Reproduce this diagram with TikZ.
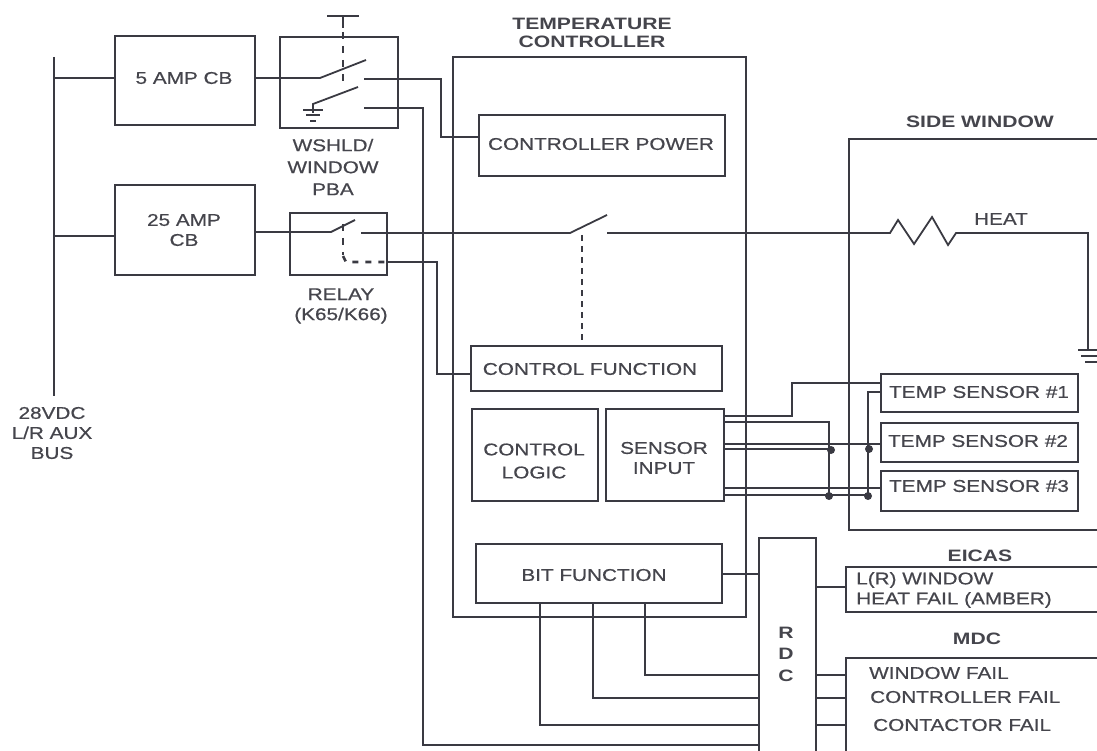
\documentclass[tikz,border=0pt]{standalone}
\usepackage{fontspec}
\setmainfont{Liberation Sans}
\newfontfamily\wideface[FakeStretch=1.22,FakeBold=0.6]{Liberation Sans}
\newfontfamily\widebold[FakeStretch=1.28]{Liberation Sans Bold}
\definecolor{ink}{HTML}{3A3A42}
\definecolor{txt}{HTML}{45454C}
\tikzset{
  wire/.style={draw=ink,line width=1.8pt,line join=miter},
  blk/.style={draw=ink,line width=2pt,fill=none,rectangle,inner sep=0pt,outer sep=0pt},
  dash1/.style={draw=ink,line width=2.6pt,dash pattern=on 7pt off 7pt},
  lab/.style={text=txt,font=\wideface\fontsize{17}{20}\selectfont,align=center,inner sep=0pt},
  labb/.style={lab,font=\widebold\fontsize{16.5}{18}\selectfont},
  dot1/.style={circle,fill=ink,inner sep=0pt,minimum size=8pt}
}
\newcommand{\bx}[5]{\node[blk,minimum width=#4pt,minimum height=#5pt,anchor=north west] (#1) at (#2,#3) {};}
\begin{document}
\begin{tikzpicture}[x=1pt,y=-1pt]
\useasboundingbox (0,0) rectangle (1097,751);
% boxes
\bx{cbfive}{115}{36}{140}{89}
\bx{cbtwentyfive}{115}{185}{140}{90}
\bx{pba}{280}{37}{118}{91}
\bx{relay}{290}{213}{97}{62}
\bx{tc}{453}{57}{293}{560}
\bx{cpower}{479}{115}{246}{61}
\bx{cfunc}{471}{346}{251}{45}
\bx{clogic}{472}{409}{126}{92}
\bx{sinput}{606}{409}{118}{92}
\bx{bit}{476}{544}{246}{59}
\bx{tsa}{881}{374}{197}{38}
\bx{tsb}{881}{423}{197}{39}
\bx{tsc}{881}{471}{197}{40}
% open boxes
\coordinate (swtl) at (849,139);
\draw[wire,line width=2pt] (1097,139) -- (swtl) -- (849,530) -- (1097,530);
\draw[wire,line width=2pt] (759,751) -- (759,538) -- (816,538) -- (816,751);
\draw[wire,line width=2pt] (1097,567) -- (846,567) -- (846,612) -- (1097,612);
\draw[wire,line width=2pt] (1097,658) -- (846,658) -- (846,751);
% bus
\draw[wire,line width=2.6pt] (54,57) -- (54,396);
\draw[wire] (54,78) -- (cbfive.west|-54,78);
\draw[wire] (54,236) -- (cbtwentyfive.west|-54,236);
% pba
\draw[wire] (255,78) -- (320,78) -- (366,60);
\draw[wire] (364,79) -- (441,79) -- (441,137) -- (cpower.west|-441,137);
\draw[wire] (327,16) -- (359,16);
\draw[wire] (343,16) -- (343,28);
\draw[dash1] (343,32) -- (343,88);
\draw[wire] (358,87) -- (313,104) -- (313,113);
\draw[wire,line width=1.6pt] (303,110) -- (323,110) (306,115) -- (320,115) (310,121) -- (316,121);
\draw[wire] (364,108) -- (423,108) -- (423,745) -- (759,745);
% relay
\draw[wire] (255,232) -- (331,232) -- (355,220);
\draw[wire] (361,233) -- (570,233) -- (607,215);
\draw[wire] (607,233) -- (890,233) -- (898,220) -- (914,244) -- (932,217) -- (948,245) -- (956,233) -- (1088,233) -- (1088,350);
\draw[wire,line width=1.6pt] (1078,350) -- (1097,350) (1081,356) -- (1097,356) (1085,362) -- (1097,362);
\draw[dash1] (343,224) -- (343,255);
\draw[dash1,dash pattern=on 6pt off 7pt] (343,256) -- (346,262) -- (386,262);
\draw[wire] (387,262) -- (437,262) -- (437,374) -- (cfunc.west|-437,374);
\draw[dash1,dash pattern=on 6pt off 5pt] (582,235) -- (582,345);
% sensor wires
\draw[wire] (724,416) -- (792,416) -- (792,383) -- (881,383);
\draw[wire] (724,422) -- (829,422) -- (829,496);
\draw[wire] (724,444) -- (881,444);
\draw[wire] (724,449) -- (830,449);
\draw[wire] (724,488) -- (881,488);
\draw[wire] (724,495) -- (868,495);
\draw[wire] (881,392) -- (868,392) -- (868,495);
\node[dot1] (da) at (831,450) {};
\node[dot1] (db) at (829,496) {};
\node[dot1] (dc) at (869,449) {};
\node[dot1] (dd) at (868,496) {};
% BIT
\draw[wire] (722,574) -- (759,574);
\draw[wire] (816,587) -- (846,587);
\draw[wire] (645,603) -- (645,675) -- (759,675);
\draw[wire] (593,603) -- (593,698) -- (759,698);
\draw[wire] (540,603) -- (540,725) -- (759,725);
\draw[wire] (816,675) -- (846,675);
\draw[wire] (816,698) -- (846,698);
\draw[wire] (816,725) -- (846,725);
% labels
\node[lab] (t1) at (184,78) {5 AMP CB};
\node[lab] (t2) at (184,230) {25 AMP\\CB};
\node[lab] (t3) at (333,167) {WSHLD/\\[2pt]WINDOW\\[2pt]PBA};
\node[lab] (t4) at (341,306) {RELAY\\(K65/K66)};
\node[labb] (t5) at (592,33) {TEMPERATURE\\CONTROLLER};
\node[lab] (t6) at (601,144) {CONTROLLER POWER};
\node[lab] (t7) at (590,369) {CONTROL FUNCTION};
\node[lab] (t8) at (534,461) {CONTROL\\[3pt]LOGIC};
\node[lab] (t9) at (664,458) {SENSOR\\INPUT};
\node[lab] (t10) at (594,575) {BIT FUNCTION};
\node[labb] (t11) at (980,122) {SIDE WINDOW};
\node[lab] (t12) at (1001,219) {HEAT};
\node[lab] (t13) at (979,392) {TEMP SENSOR \#1};
\node[lab] (t14) at (978,441) {TEMP SENSOR \#2};
\node[lab] (t15) at (979,486) {TEMP SENSOR \#3};
\node[lab] (t16) at (52,433) {28VDC\\L/R AUX\\BUS};
\node[labb] (t17) at (980,556) {EICAS};
\node[labb] (t18) at (977,639) {MDC};
\node[lab,align=left,anchor=west] (t19) at (856,590) {L(R) WINDOW\\HEAT FAIL (AMBER)};
\node[lab,anchor=west] (t20) at (869,673) {WINDOW FAIL};
\node[lab,anchor=west] (t21) at (870,697) {CONTROLLER FAIL};
\node[lab,anchor=west] (t22) at (873,725) {CONTACTOR FAIL};
\node[labb] (t23) at (786,633) {R};
\node[labb] (t24) at (786,654) {D};
\node[labb] (t25) at (786,676) {C};
\end{tikzpicture}
\end{document}
